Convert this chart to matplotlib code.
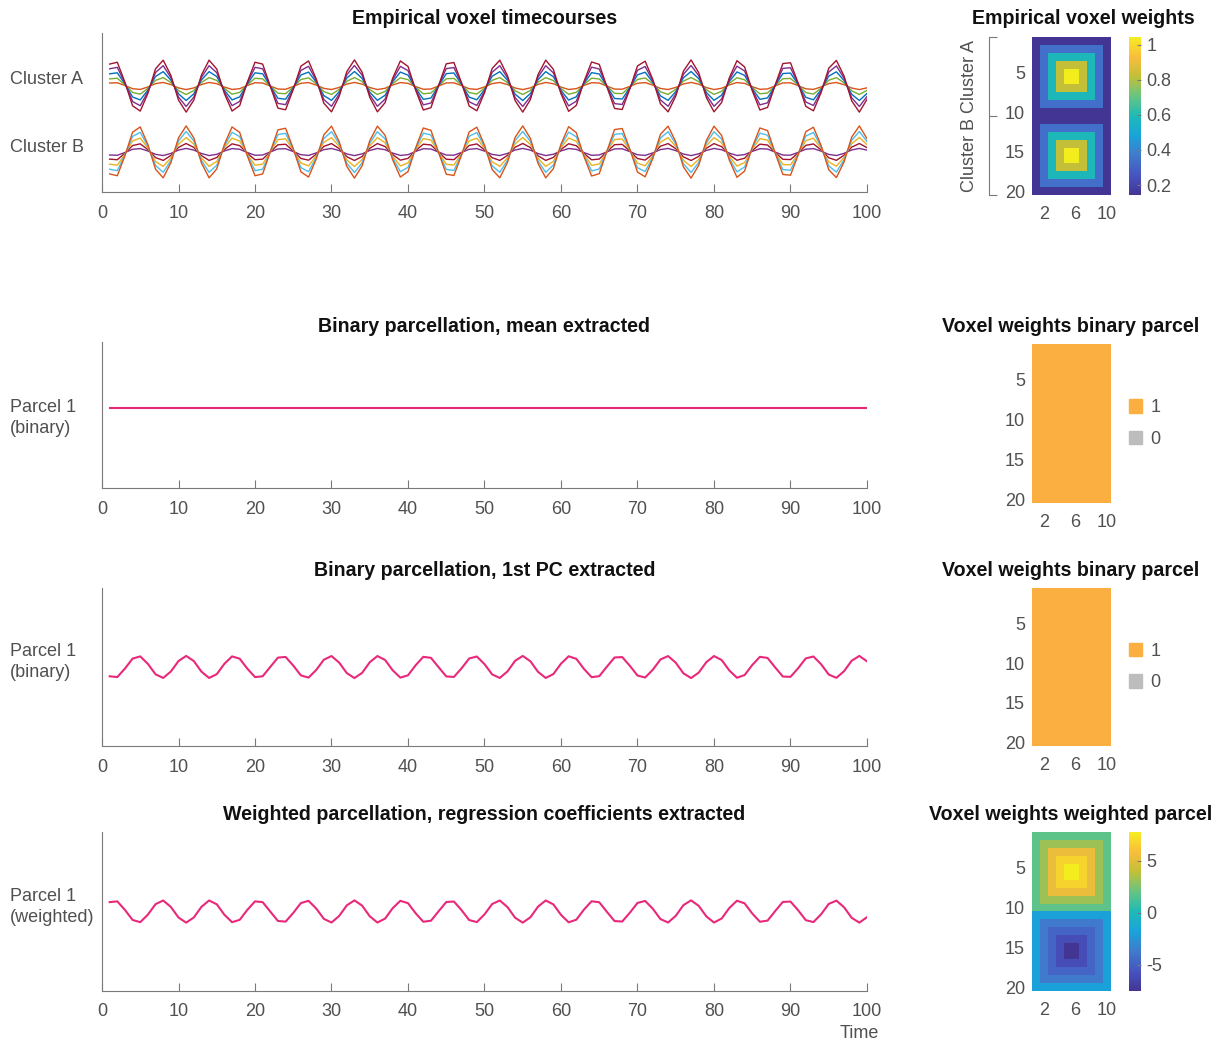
import matplotlib
matplotlib.use('Agg')
import matplotlib.pyplot as plt
import numpy as np
from matplotlib.colors import LinearSegmentedColormap
from matplotlib.patches import Patch
from matplotlib.ticker import FormatStrFormatter

plt.rcParams['font.family'] = ['Liberation Sans', 'DejaVu Sans']
plt.rcParams['axes.unicode_minus'] = False

W, H = 1220, 1043
TXT = '#505050'
LN = '#7a7a7a'

# ---- data ----
time = list(range(1, 101))
# the oscillation shared by all voxels, one sample per time point
wave = [0.84, 0.91, 0.14, -0.76, -0.96, -0.28, 0.66, 0.99, 0.41, -0.54,
        -1.00, -0.54, 0.42, 0.99, 0.65, -0.29, -0.96, -0.75, 0.15, 0.91,
        0.84, -0.01, -0.85, -0.91, -0.13, 0.76, 0.96, 0.27, -0.66, -0.99,
        -0.40, 0.55, 1.00, 0.53, -0.43, -0.99, -0.64, 0.30, 0.96, 0.75,
        -0.16, -0.92, -0.83, 0.02, 0.85, 0.90, 0.12, -0.77, -0.95, -0.26,
        0.67, 0.99, 0.40, -0.56, -1.00, -0.52, 0.44, 0.99, 0.64, -0.30,
        -0.97, -0.74, 0.17, 0.92, 0.83, -0.03, -0.86, -0.90, -0.11, 0.77,
        0.95, 0.25, -0.68, -0.99, -0.39, 0.57, 1.00, 0.51, -0.44, -0.99,
        -0.63, 0.31, 0.97, 0.73, -0.18, -0.92, -0.82, 0.04, 0.86, 0.89,
        0.11, -0.78, -0.95, -0.25, 0.68, 0.98, 0.38, -0.57, -1.00, -0.51]

# voxel weight per ring (outer ring -> centre) of each 10x10 cluster
voxel_levels = [0.143, 0.34, 0.58, 0.82, 1.044]
cluster_offsets = {'Cluster A': 1.32, 'Cluster B': -1.32}
cluster_signs = {'Cluster A': 1, 'Cluster B': -1}
cluster_colors = {
    'Cluster A': ['#D95319', '#77AC30', '#0072BD', '#7E2F8E', '#A2142F'],
    'Cluster B': ['#7E2F8E', '#A2142F', '#EDB120', '#4DBEEE', '#D95319'],
}

# ring index of each voxel in a 10x10 cluster block
ring = [[0, 0, 0, 0, 0, 0, 0, 0, 0, 0],
        [0, 1, 1, 1, 1, 1, 1, 1, 1, 0],
        [0, 1, 2, 2, 2, 2, 2, 2, 1, 0],
        [0, 1, 2, 3, 3, 3, 3, 2, 1, 0],
        [0, 1, 2, 3, 4, 4, 3, 2, 1, 0],
        [0, 1, 2, 3, 4, 4, 3, 2, 1, 0],
        [0, 1, 2, 3, 3, 3, 3, 2, 1, 0],
        [0, 1, 2, 2, 2, 2, 2, 2, 1, 0],
        [0, 1, 1, 1, 1, 1, 1, 1, 1, 0],
        [0, 0, 0, 0, 0, 0, 0, 0, 0, 0]]

weighted_A_levels = [1.8, 3.2, 5.3, 6.7, 7.75]
weighted_B_levels = [-1.9, -3.7, -4.8, -6.0, -7.55]

parcel_mean = [0.0] * 100
pc_scale = -0.14
weighted_scale = 0.14

binary_colors = {'1': '#FAAF40', '0': '#BDBDBD'}

# parula-like colour map
parula = LinearSegmentedColormap.from_list('parula', [
    (0.000, (0.26, 0.21, 0.58)),
    (0.125, (0.28, 0.33, 0.76)),
    (0.250, (0.25, 0.48, 0.80)),
    (0.375, (0.10, 0.64, 0.86)),
    (0.500, (0.12, 0.73, 0.71)),
    (0.625, (0.40, 0.77, 0.52)),
    (0.750, (0.76, 0.75, 0.22)),
    (0.875, (0.98, 0.74, 0.24)),
    (1.000, (0.96, 0.93, 0.12)),
])

fig = plt.figure(figsize=(W / 100, H / 100), dpi=100)


def px_axes(x0, y0, x1, y1):
    return fig.add_axes([x0 / W, 1 - y1 / H, (x1 - x0) / W, (y1 - y0) / H])


def px_text(x, y, s, **kw):
    fig.text(x / W, 1 - y / H, s, **kw)


def style_line_axes(ax):
    for s in ['top', 'right']:
        ax.spines[s].set_visible(False)
    for s in ['left', 'bottom']:
        ax.spines[s].set_color(LN)
    ax.set_xlim(0, 100)
    ax.set_xticks(range(0, 101, 10))
    ax.set_yticks([])
    ax.tick_params(axis='x', direction='in', length=5.5, color=LN,
                   labelcolor=TXT, labelsize=13, pad=9)


def style_map_axes(ax):
    for s in ax.spines.values():
        s.set_visible(False)
    ax.set_xticks([2, 6, 10])
    ax.set_yticks([5, 10, 15, 20])
    ax.tick_params(length=0, labelcolor=TXT, labelsize=13, pad=5)
    ax.tick_params(axis='x', pad=8)


wave = np.array(wave)
ring = np.array(ring)
left_rows = [(33, 192), (342, 488), (588, 746), (832, 991)]
map_rows = [(37, 195), (344, 503), (588, 746), (832, 991)]

# ---- panel 1: empirical timecourses ----
ax1 = px_axes(102, left_rows[0][0], 867, left_rows[0][1])
for name in ['Cluster A', 'Cluster B']:
    for amp, col in zip(voxel_levels, cluster_colors[name]):
        ax1.plot(time, cluster_offsets[name] + cluster_signs[name] * amp * wave,
                 color=col, lw=1.0)
ax1.set_ylim(-2.92, 3.44)
style_line_axes(ax1)

# ---- panel 2: binary mean ----
ax2 = px_axes(102, left_rows[1][0], 867, left_rows[1][1])
ax2.plot(time, parcel_mean, color='#E9287A', lw=1.5)
ax2.set_ylim(-1.1, 0.9)
style_line_axes(ax2)

# ---- panel 3: binary 1st PC ----
ax3 = px_axes(102, left_rows[2][0], 867, left_rows[2][1])
ax3.plot(time, pc_scale * wave, color='#E9287A', lw=1.5)
ax3.set_ylim(-1, 1)
style_line_axes(ax3)

# ---- panel 4: weighted regression ----
ax4 = px_axes(102, left_rows[3][0], 867, left_rows[3][1])
ax4.plot(time, weighted_scale * wave, color='#E9287A', lw=1.5)
ax4.set_ylim(-1, 1)
style_line_axes(ax4)

# y labels of the line panels
lab = dict(fontsize=13, color=TXT, va='center', linespacing=1.25)
px_text(10, 80, 'Cluster A', **lab)
px_text(10, 147, 'Cluster B', **lab)
px_text(10, 418, 'Parcel 1\n(binary)', **lab)
px_text(10, 662, 'Parcel 1\n(binary)', **lab)
px_text(10, 907, 'Parcel 1\n(weighted)', **lab)
px_text(859, 1033, 'Time', fontsize=13, color=TXT, ha='center', va='center')

ext = (0.5, 10.5, 20.5, 0.5)

# ---- heatmap 1: empirical weights ----
emp = np.vstack([np.array(voxel_levels)[ring], np.array(voxel_levels)[ring]])
h1 = px_axes(1032, map_rows[0][0], 1111, map_rows[0][1])
im1 = h1.imshow(emp, cmap=parula, extent=ext, aspect='auto', interpolation='nearest',
                vmin=emp.min(), vmax=emp.max())
style_map_axes(h1)
c1 = px_axes(1129, map_rows[0][0], 1141, map_rows[0][1])
cb1 = fig.colorbar(im1, cax=c1, ticks=[0.2, 0.4, 0.6, 0.8, 1])
cb1.outline.set_visible(False)
cb1.ax.yaxis.set_major_formatter(FormatStrFormatter('%g'))
cb1.ax.tick_params(direction='in', length=3, color=LN, labelcolor=TXT, labelsize=13, pad=4)

# cluster bracket
hb = px_axes(989, map_rows[0][0], 990, map_rows[0][1])
hb.set_ylim(20.5, 0.5)
hb.set_xticks([])
for s in ['top', 'right', 'bottom']:
    hb.spines[s].set_visible(False)
hb.spines['left'].set_color(LN)
hb.set_yticks([0.5, 10.5, 20.5])
hb.set_yticklabels([])
hb.tick_params(axis='y', which='major', direction='in', length=6, color=LN)
hb.set_yticks([5.5, 15.5], minor=True)
hb.set_yticklabels(['Cluster A', 'Cluster B'], minor=True, rotation=90, va='center')
hb.tick_params(axis='y', which='minor', length=0, labelcolor=TXT, labelsize=13, pad=8)

# ---- heatmaps 2 and 3: binary parcel ----
binary = np.ones((20, 10))
for row in (map_rows[1], map_rows[2]):
    hx = px_axes(1032, row[0], 1111, row[1])
    hx.imshow(binary, cmap=LinearSegmentedColormap.from_list(
        'bin', [binary_colors['0'], binary_colors['1']]), vmin=0, vmax=1,
        extent=ext, aspect='auto', interpolation='nearest')
    style_map_axes(hx)
    handles = [Patch(color=binary_colors[k], label=k) for k in ['1', '0']]
    leg = hx.legend(handles=handles, loc='center left', bbox_to_anchor=(1.225, 0.5),
                    frameon=False, handlelength=0.75, handleheight=0.75, handletextpad=0.45,
                    labelspacing=0.8, borderpad=0, borderaxespad=0, fontsize=13)
    for t in leg.get_texts():
        t.set_color(TXT)

# ---- heatmap 4: weighted parcel ----
wmap = np.vstack([np.array(weighted_A_levels)[ring], np.array(weighted_B_levels)[ring]])
h4 = px_axes(1032, map_rows[3][0], 1111, map_rows[3][1])
im4 = h4.imshow(wmap, cmap=parula, extent=ext, aspect='auto', interpolation='nearest',
                vmin=wmap.min(), vmax=wmap.max())
style_map_axes(h4)
c4 = px_axes(1129, map_rows[3][0], 1141, map_rows[3][1])
cb4 = fig.colorbar(im4, cax=c4, ticks=[-5, 0, 5])
cb4.outline.set_visible(False)
cb4.ax.tick_params(direction='in', length=3, color=LN, labelcolor=TXT, labelsize=13, pad=4)

# ---- titles ----
titles = [
    ('Empirical voxel timecourses', 484.5, 19),
    ('Empirical voxel weights', 1083, 19),
    ('Binary parcellation, mean extracted', 484.5, 326),
    ('Voxel weights binary parcel', 1071, 326),
    ('Binary parcellation, 1st PC extracted', 484.5, 570),
    ('Voxel weights binary parcel', 1071, 570),
    ('Weighted parcellation, regression coefficients extracted', 484.5, 814),
    ('Voxel weights weighted parcel', 1071, 814),
]
for s, x, y in titles:
    px_text(x, y, s, fontsize=14.1, fontweight='bold', color='#111111',
            ha='center', va='center')

fig.savefig('out.png', dpi=100)
